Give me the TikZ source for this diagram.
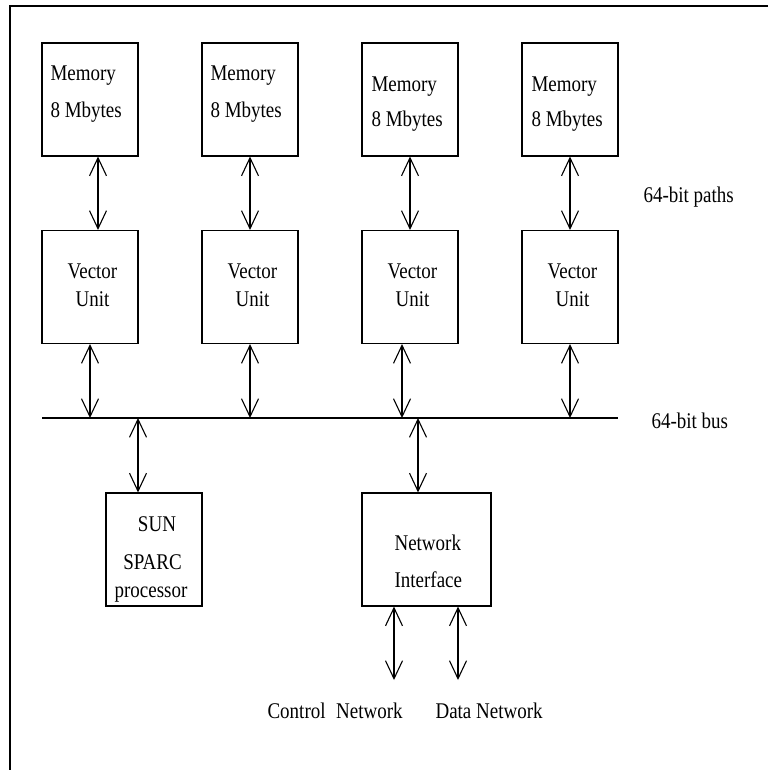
\documentclass[tikz,border=0pt]{standalone}
\usepackage{fontspec}
\usepackage{graphicx}
\setmainfont{Liberation Serif}
\usetikzlibrary{arrows.meta}
% slightly tall lettering
\newcommand\talltext[1]{\scalebox{1}[1.18]{#1}}

\begin{document}
\begin{tikzpicture}[x=1pt,y=-1pt,
  line width=1.1pt,
  font=\fontsize{19}{19}\selectfont,
  unitbox/.style={draw, rectangle, inner sep=0pt, minimum width=96pt, minimum height=113pt},
  lbl/.style={inner sep=0pt, anchor=base west},
  clbl/.style={inner sep=0pt, anchor=base},
  dbl/.style={{Straight Barb[length=18pt,width=17pt]}-{Straight Barb[length=18pt,width=17pt]}}
]
\useasboundingbox (0,0) rectangle (768,770);

% page frame (top and left edges)
\coordinate (frTL) at (10,6);
\coordinate (frTR) at (768,6);
\coordinate (frBL) at (10,770);
\draw (frTR) -- (frTL) -- (frBL);

% memory banks
\node[unitbox] (m1) at (90,99.5) {};
\node[unitbox] (m2) at (250,99.5) {};
\node[unitbox] (m3) at (410,99.5) {};
\node[unitbox] (m4) at (570,99.5) {};
\node[lbl] (m1a) at (50,81) {\talltext{Memory}};
\node[lbl] (m1b) at (50,118) {\talltext{8 Mbytes}};
\node[lbl] (m2a) at (210,81) {\talltext{Memory}};
\node[lbl] (m2b) at (210,118) {\talltext{8 Mbytes}};
\node[lbl] (m3a) at (371,92) {\talltext{Memory}};
\node[lbl] (m3b) at (371,127) {\talltext{8 Mbytes}};
\node[lbl] (m4a) at (531,92) {\talltext{Memory}};
\node[lbl] (m4b) at (531,127) {\talltext{8 Mbytes}};

% vector units
\node[unitbox] (v1) at (90,287) {};
\node[unitbox] (v2) at (250,287) {};
\node[unitbox] (v3) at (410,287) {};
\node[unitbox] (v4) at (570,287) {};
\foreach \i/\cx in {1/92.5, 2/252.5, 3/412.5, 4/572.5} {
  \node[clbl] (v\i a) at (\cx,278) {\talltext{Vector}};
  \node[clbl] (v\i b) at (\cx,306) {\talltext{Unit}};
}

\node[lbl] (paths) at (643,202) {\talltext{64-bit paths}};

% memory <-> vector unit paths
\draw[dbl] (m1.south -| 98,0) -- (v1.north -| 98,0);
\draw[dbl] (m2.south -| 250,0) -- (v2.north -| 250,0);
\draw[dbl] (m3.south -| 410,0) -- (v3.north -| 410,0);
\draw[dbl] (m4.south -| 570,0) -- (v4.north -| 570,0);

% system bus
\coordinate (busL) at (42,418);
\coordinate (busR) at (618,418);
\draw (busL) -- (busR);
\node[lbl] (buslbl) at (651,428) {\talltext{64-bit bus}};

\draw[dbl] (v1.south -| 90,0) -- (busL -| 90,0);
\draw[dbl] (v2.south -| 250,0) -- (busL -| 250,0);
\draw[dbl] (v3.south -| 402,0) -- (busL -| 402,0);
\draw[dbl] (v4.south -| 570,0) -- (busL -| 570,0);

% SUN SPARC host processor
\node[unitbox] (sun) at (154,549.5) {};
\node[clbl] (suna) at (157,531) {\talltext{SUN}};
\node[clbl] (sunb) at (152.5,569) {\talltext{SPARC}};
\node[clbl] (sunc) at (151,597) {\talltext{processor}};
\draw[dbl] (busL -| 138,0) -- (sun.north -| 138,0);

% network interface
\node[unitbox, minimum width=129pt] (ni) at (426.5,549.5) {};
\node[lbl] (nia) at (394,550) {\talltext{Network}};
\node[lbl] (nib) at (394,587) {\talltext{Interface}};
\draw[dbl] (busL -| 418,0) -- (ni.north -| 418,0);

% external networks
\coordinate (ctl) at (394,680);
\coordinate (dat) at (458,680);
\draw[dbl] (ni.south -| ctl) -- (ctl);
\draw[dbl] (ni.south -| dat) -- (dat);
\node[lbl] (ctllbl) at (267,718) {\talltext{Control\hspace{10.5pt}Network}};
\node[lbl] (datlbl) at (435,718) {\talltext{Data Network}};
\end{tikzpicture}
\end{document}
